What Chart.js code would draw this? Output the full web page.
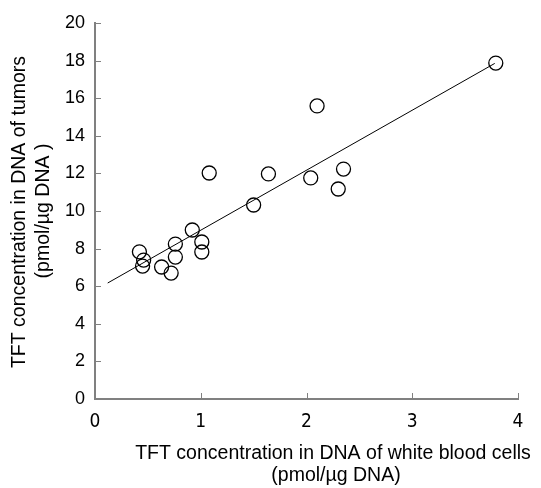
<!DOCTYPE html>
<html>
<head>
<meta charset="utf-8">
<script src="https://cdn.jsdelivr.net/npm/chart.js@4.4.1/dist/chart.umd.min.js"></script>
<style>
  html,body{margin:0;padding:0;background:#fff;}
  #wrap{width:541px;height:488px;}
</style>
</head>
<body>
<div id="wrap"><canvas id="c" width="541" height="488"></canvas></div>
<script>
// white blood cell DNA vs tumor DNA (pmol/ug DNA)
const wbc   = [0.42,0.46,0.45,0.63,0.72,0.76,0.76,0.92,1.01,1.01,1.08,1.50,1.64,2.04,2.10,2.30,2.35,3.79];
const tumor = [7.83,7.39,7.07,7.02,6.70,7.55,8.24,8.99,8.35,7.82,12.02,10.32,11.97,11.76,15.59,11.17,12.23,17.87];
// fitted line endpoints
const fitX = [0.12, 3.78];
const fitY = [6.17, 17.85];

const xTitle = ['TFT concentration in DNA of white blood cells', '(pmol/\u00b5g DNA)'];
const yTitle = ['TFT concentration in DNA of tumors', '(pmol/\u00b5g DNA )'];

const FONT = '"Liberation Sans", Arial, sans-serif';
const NARROW = '"Liberation Sans Narrow", "DejaVu Sans Condensed", sans-serif';

const pts = wbc.map((x,i)=>({x, y: tumor[i]}));
const fit = fitX.map((x,i)=>({x, y: fitY[i]}));

// inward tick marks + axis titles
const extras = {
  id:'extras',
  afterDraw(chart){
    const {ctx, chartArea:a, scales:{x, y}} = chart;
    ctx.save();
    ctx.strokeStyle = '#808080';
    ctx.lineWidth = 1;
    y.ticks.forEach(t=>{
      const py = Math.round(y.getPixelForValue(t.value)) + 0.5;
      ctx.beginPath(); ctx.moveTo(a.left, py); ctx.lineTo(a.left+6, py); ctx.stroke();
    });
    x.ticks.forEach(t=>{
      const px = Math.round(x.getPixelForValue(t.value)) + 0.5;
      ctx.beginPath(); ctx.moveTo(px, a.bottom); ctx.lineTo(px, a.bottom-6); ctx.stroke();
    });
    ctx.fillStyle = '#000';
    ctx.font = '19.5px ' + FONT;
    ctx.textAlign = 'center';
    ctx.textBaseline = 'middle';
    ctx.fillText(xTitle[0], 333, 454);
    ctx.fillText(xTitle[1], 336, 476);
    ctx.translate(0, 212);
    ctx.rotate(-Math.PI/2);
    ctx.fillText(yTitle[0], 0, 20);
    ctx.fillText(yTitle[1], 1, 44);
    ctx.restore();
  }
};

new Chart(document.getElementById('c'), {
  type:'scatter',
  data:{
    datasets:[
      { data: pts, pointStyle:'circle', pointRadius:7, pointHoverRadius:7,
        pointBorderColor:'#000', pointBackgroundColor:'rgba(0,0,0,0)', pointBorderWidth:1.3, showLine:false },
      { type:'line', data: fit, borderColor:'#000', borderWidth:1, pointRadius:0, fill:false, tension:0 }
    ]
  },
  options:{
    responsive:false,
    animation:false,
    layout:{ padding:{ left:0, top:23, right:23, bottom:0 } },
    plugins:{ legend:{display:false}, tooltip:{enabled:false} },
    scales:{
      x:{
        type:'linear', min:0, max:4,
        ticks:{ stepSize:1, color:'#000', padding:12, font:{ family:NARROW, size:19 } },
        grid:{ display:false, drawTicks:false },
        border:{ color:'#808080', width:2 },
        afterFit: s => { s.height = 89; }
      },
      y:{
        min:0, max:20,
        ticks:{ stepSize:2, color:'#000', padding:10, font:{ family:FONT, size:18 } },
        grid:{ display:false, drawTicks:false },
        border:{ color:'#808080', width:2 },
        afterFit: s => { s.width = 95; }
      }
    }
  },
  plugins:[extras]
});
</script>
</body>
</html>
